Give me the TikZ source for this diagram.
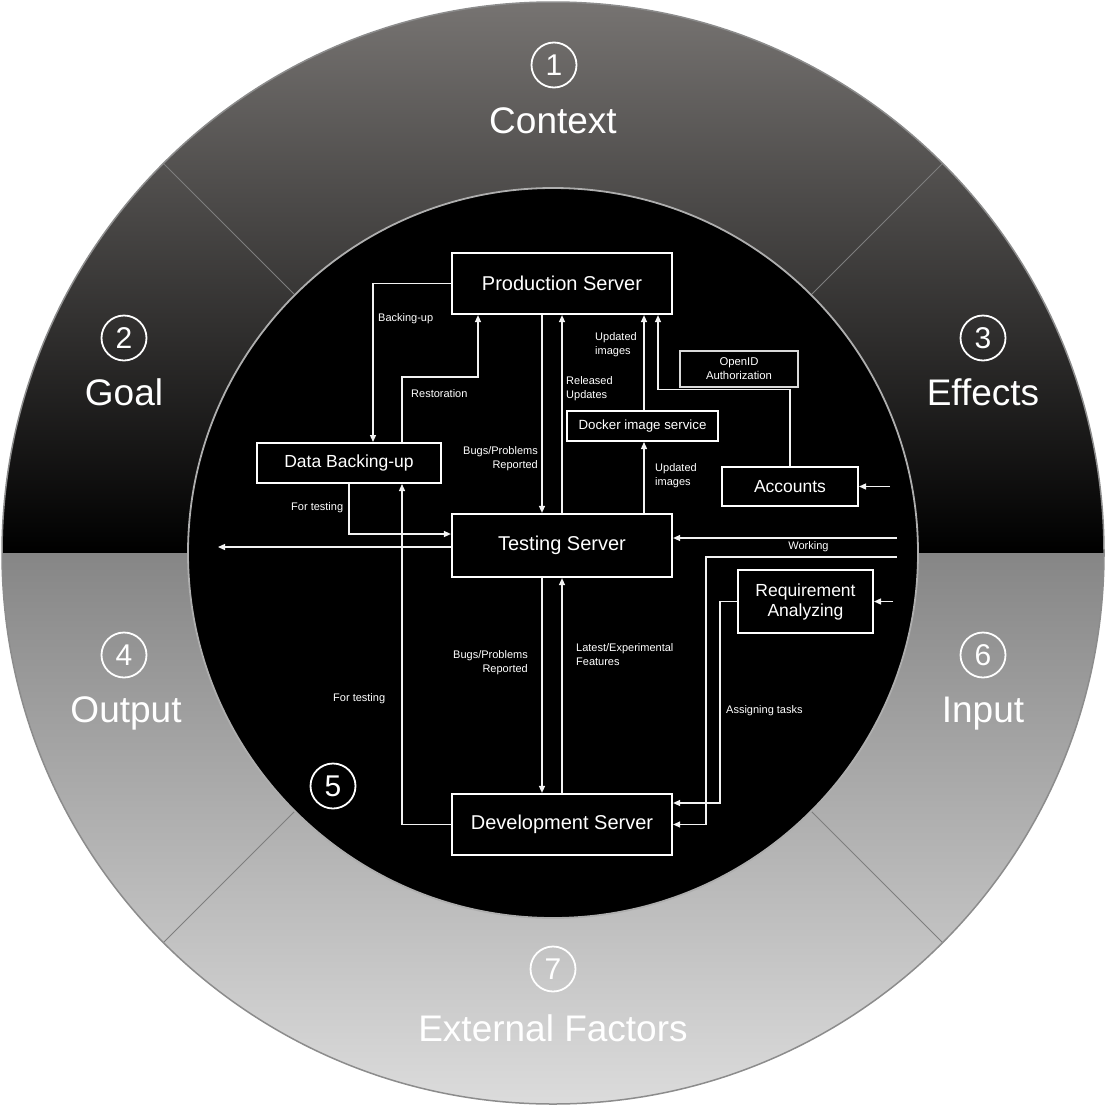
\documentclass[tikz,border=0pt]{standalone}
\usepackage{fontspec}
\setmainfont{Liberation Sans}
\usetikzlibrary{positioning}
\usetikzlibrary{arrows.meta}
\definecolor{ctxtop}{HTML}{777472}
\definecolor{lowtop}{HTML}{868686}
\definecolor{lowbot}{HTML}{DCDCDC}
\definecolor{rimgray}{HTML}{8C8C8C}
\definecolor{sepgray}{HTML}{7E7E7E}
\definecolor{linewhite}{HTML}{F2F2F2}

\begin{document}
\begin{tikzpicture}[
            x = 1pt, y = -1pt, % pixel grid of the sketch
            > = {Triangle[length=7pt, width=6pt]}, % arrow head style
            srvbox/.style = {draw = white, line width = 2.2pt, fill = black, text = white,
                minimum width = 220pt, minimum height = 61pt, inner sep = 0pt,
                font = \fontsize{20}{24}\selectfont},
            midbox/.style = {draw = white, line width = 2pt, fill = black, text = white,
                inner sep = 0pt, font = \fontsize{17.5}{20}\selectfont},
            smallbox/.style = {draw = white, line width = 2pt, fill = black, text = white,
                minimum width = 151pt, minimum height = 30pt, inner sep = 0pt,
                font = \fontsize{13.3}{16}\selectfont},
            tagbox/.style = {draw = white!85!black, line width = 1.2pt, fill = black, text = white,
                minimum width = 118pt, minimum height = 36pt, inner sep = 0pt, align = center,
                font = \fontsize{11.3}{14}\selectfont},
            wire/.style = {draw = linewhite, line width = 1.3pt},
            lbl/.style = {text = white, inner sep = 0pt, align = left,
                font = \fontsize{11}{14}\selectfont},
            numring/.style = {circle, draw = white, line width = 1.8pt, minimum size = 45pt,
                inner sep = 0pt, text = white, font = \fontsize{30}{30}\selectfont},
            ringtext/.style = {anchor = base, inner sep = 0pt, text = white,
                font = \fontsize{37}{44}\selectfont}
            ]

        \useasboundingbox (0,0) rectangle (1106,1106);

        % outer ring
        \coordinate (C) at (553,553);
        \begin{scope}
            \clip (C) circle [radius=551];
            \shade[top color=ctxtop, bottom color=black] (0,0) rectangle (1106,553);
            \shade[top color=lowtop, bottom color=lowbot] (0,553) rectangle (1106,1106);
        \end{scope}
        \foreach \a in {45,135,225,315}
            \draw[sepgray, line width=1pt] ([shift={(\a:365)}]C) -- ([shift={(\a:551)}]C);
        \draw[rimgray, line width=1.5pt] (C) circle [radius=551];

        % inner disc
        \fill[black] (C) circle [radius=365];
        \draw[rimgray!70!white, line width=1.8pt] (C) circle [radius=365];

        % sectors
        \node[numring] (n1) at (554,65) {1};
        \node[ringtext] (t1) at (553,133) {Context};
        \node[numring] (n2) at (124,338) {2};
        \node[ringtext] (t2) at (124,405) {Goal};
        \node[numring] (n3) at (983,338) {3};
        \node[ringtext] (t3) at (983,405) {Effects};
        \node[numring] (n4) at (124,655) {4};
        \node[ringtext] (t4) at (126,722) {Output};
        \node[numring] (n6) at (983,655) {6};
        \node[ringtext] (t6) at (983,722) {Input};
        \node[numring] (n7) at (553,969) {7};
        \node[ringtext] (t7) at (553,1041) {External Factors};
        \node[numring] (n5) at (333,786) {5};

        % servers
        \node[srvbox] (PS) at (562,283.5) {Production Server};
        \node[srvbox, minimum height=63pt] (TS) at (562,545.5) {Testing Server};
        \node[srvbox] (DS) at (562,824.5) {Development Server};

        % services
        \node[midbox, minimum width=184pt, minimum height=40pt] (DB) at (349,463) {Data Backing-up};
        \node[midbox, minimum width=136pt, minimum height=39pt] (ACC) at (790,486.5) {Accounts};
        \node[midbox, minimum width=135pt, minimum height=63pt, align=center] (RA) at (805.5,601.5) {Requirement\\Analyzing};
        \node[smallbox] (DIS) at (642.5,426) {Docker image service};
        \node[tagbox] (OID) at (739,369) {OpenID\\Authorization};

        % production and backing-up
        \coordinate (rest) at (478,377);
        \draw[wire,->] (PS.west) -| ([xshift=24pt]DB.north);
        \draw[wire,->] ([xshift=53pt]DB.north) |- (rest) -- (rest |- PS.south);
        \node[lbl, anchor=west] (lbBack) at (378,319) {Backing-up};
        \node[lbl, anchor=west] (lbRest) at (411,394) {Restoration};

        % production and testing
        \draw[wire,->] ([xshift=-20pt]PS.south) -- ([xshift=-20pt]TS.north);
        \draw[wire,->] (TS.north) -- (PS.south);
        \node[lbl, anchor=east, align=right] (lbBug1) at (538,459) {Bugs/Problems\\Reported};
        \node[lbl, anchor=west] (lbRel) at (566,389) {Released\\Updates};

        % docker images
        \draw[wire,->] ([xshift=1.5pt]DIS.north) -- ([xshift=1.5pt]DIS.north |- PS.south);
        \draw[wire,->] ([xshift=1.5pt]DIS.south |- TS.north) -- ([xshift=1.5pt]DIS.south);
        \node[lbl, anchor=west] (lbUpd1) at (595,345) {Updated\\images};
        \node[lbl, anchor=west] (lbUpd2) at (655,476) {Updated\\images};

        % accounts
        \draw[wire,->] (ACC.north) |- ([yshift=-2pt]OID.south) -| ([xshift=96pt]PS.south);
        \coordinate[right=31pt of ACC.east] (accin);
        \draw[wire,->] (accin) -- (ACC.east);

        % testing
        \coordinate (tsout) at (218,547);
        \draw[wire,->] (DB.south) |- ([yshift=11.5pt]TS.west);
        \draw[wire,->] (TS.west |- tsout) -- (tsout);
        \node[lbl, anchor=west] (lbTest1) at (291,508) {For testing};

        % working
        \coordinate (wkin) at (897,538);
        \coordinate (wkdev) at (897,557);
        \draw[wire,->] (wkin) -- (wkin -| TS.east);
        \draw[wire,->] (wkdev) -| ([xshift=33pt]DS.east) -- (DS.east);
        \node[lbl] (lbWork) at (808.5,547) {Working};

        % requirements
        \coordinate[right=19pt of RA.east] (rain);
        \draw[wire,->] (rain) -- (RA.east);
        \draw[wire,->] (RA.west) -| ([xshift=47pt,yshift=21.5pt]DS.east) -- ([yshift=21.5pt]DS.east);
        \node[lbl, anchor=west] (lbAssign) at (726,711) {Assigning tasks};

        % development
        \draw[wire,->] (DS.west) -| ([xshift=53pt]DB.south);
        \draw[wire,->] ([xshift=-20pt]TS.south) -- ([xshift=-20pt]DS.north);
        \draw[wire,->] (DS.north) -- (TS.south);
        \node[lbl, anchor=east, align=right] (lbBug2) at (528,663) {Bugs/Problems\\Reported};
        \node[lbl, anchor=west] (lbTest2) at (333,699) {For testing};
        \node[lbl, anchor=west] (lbLatest) at (576,655) {Latest/Experimental\\Features};

  \end{tikzpicture}
\end{document}
